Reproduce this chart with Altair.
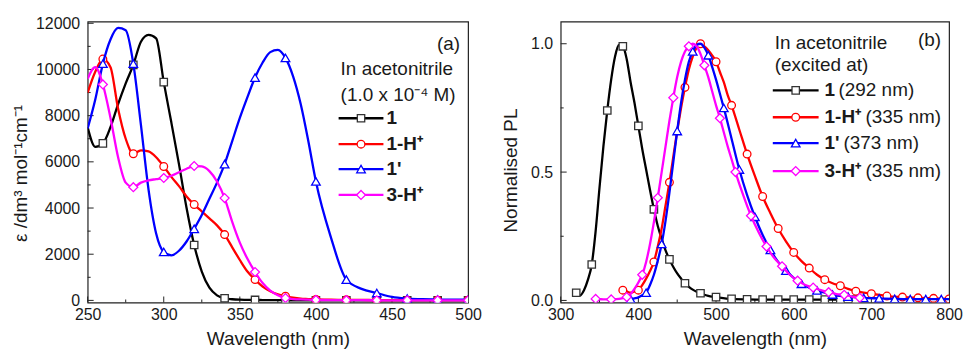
import altair as alt
import pandas as pd

# ---------------- Panel (a): absorption in acetonitrile ----------------
wl_a = list(range(250, 401, 5)) + list(range(410, 501, 10))
abs_1 = [7500, 6650, 6800, 7500, 8500, 9400, 10200, 11200, 11500, 11350,
         9450, 7700, 5900, 4000, 2400, 1250, 550, 220, 90, 50,
         30, 20, 20, 15, 10, 10, 10, 5, 5, 5, 0,
         0, 0, 0, 0, 0, 0, 0, 0, 0, 0]
abs_1H = [9000, 9900, 10450, 10100, 8300, 7000, 6350, 6500, 6450, 6200,
          5800, 5350, 4950, 4500, 4150, 3850, 3550, 3250, 2850, 2300,
          1750, 1250, 900, 600, 400, 260, 180, 120, 80, 60, 40,
          30, 25, 20, 15, 15, 10, 10, 10, 10, 10]
abs_1p = [7450, 8700, 10250, 11300, 11800, 11700, 10250, 7600, 4800, 2900,
          2100, 1950, 2150, 2550, 3100, 3700, 4400, 5100, 5900, 6900,
          7900, 8800, 9650, 10300, 10750, 10850, 10500, 9700, 8500, 6900, 5150,
          2700, 900, 500, 320, 150, 80, 50, 40, 30, 30]
abs_3H = [9600, 10100, 9350, 7900, 6200, 5100, 4900, 5100, 5200, 5250,
          5300, 5400, 5550, 5700, 5820, 5800, 5600, 5150, 4430, 3400,
          2500, 1800, 1230, 750, 420, 220, 100, 60, 40, 30, 20,
          15, 10, 10, 5, 5, 5, 5, 5, 5, 5]
a_marker_start = [260, 260, 260, 260]

# ---------------- Panel (b): normalised PL ----------------
pl_1_wl = list(range(320, 501, 5)) + list(range(520, 681, 20))
pl_1 = [0.03, 0.02, 0.04, 0.08, 0.14, 0.27, 0.44, 0.60, 0.74, 0.86,
        0.95, 0.995, 0.99, 0.94, 0.85, 0.77, 0.68, 0.59, 0.51, 0.43,
        0.355, 0.29, 0.24, 0.195, 0.16, 0.13, 0.105, 0.085, 0.067, 0.053,
        0.042, 0.034, 0.028, 0.022, 0.018, 0.015, 0.013,
        0.006, 0.004, 0.003, 0.003, 0.003, 0.003, 0.003, 0.003, 0.003]

pl_1H_wl = list(range(375, 521, 5)) + list(range(530, 701, 10)) + list(range(720, 801, 20))
pl_1H = [0.04, 0.04, 0.035, 0.03, 0.035, 0.04, 0.06, 0.085, 0.115, 0.15,
         0.21, 0.28, 0.37, 0.46, 0.56, 0.66, 0.75, 0.83, 0.9, 0.95,
         0.985, 1.0, 0.99, 0.975, 0.955, 0.93, 0.89, 0.85, 0.8, 0.76,
         0.665, 0.57, 0.485, 0.405, 0.34, 0.28, 0.23, 0.187, 0.153, 0.126,
         0.1, 0.081, 0.067, 0.057, 0.045, 0.036, 0.03, 0.026,
         0.017, 0.013, 0.01, 0.008, 0.006]

pl_1p_wl = list(range(385, 511, 5)) + list(range(520, 651, 10)) + list(range(670, 791, 20)) + [800]
pl_1p = [0.005, 0.005, 0.008, 0.012, 0.02, 0.03, 0.06, 0.1, 0.155, 0.22,
         0.31, 0.42, 0.54, 0.66, 0.77, 0.86, 0.93, 0.97, 0.995, 1.0,
         0.985, 0.955, 0.91, 0.86, 0.805, 0.75,
         0.63, 0.51, 0.41, 0.326, 0.255, 0.197, 0.15, 0.116, 0.088, 0.065,
         0.05, 0.039, 0.03, 0.023,
         0.015, 0.01, 0.008, 0.006, 0.005, 0.005, 0.005, 0.005]

pl_3H_wl = list(range(345, 526, 5)) + list(range(535, 686, 10))
pl_3H = [0.006, 0.005, 0.004, 0.004, 0.004, 0.005, 0.006, 0.009, 0.013, 0.025,
         0.045, 0.07, 0.1, 0.15, 0.22, 0.305, 0.4, 0.5, 0.6, 0.7,
         0.79, 0.87, 0.93, 0.97, 0.99, 1.0, 0.99, 0.96, 0.916, 0.87,
         0.815, 0.76, 0.71, 0.655, 0.6, 0.55, 0.5,
         0.41, 0.33, 0.265, 0.21, 0.165, 0.133, 0.1, 0.077, 0.06, 0.05,
         0.04, 0.032, 0.025, 0.022, 0.015, 0.01]
b_marker_start = [320, 380, 390, 345]

series_names = ["1", "1-H⁺", "1'", "3-H⁺"]
series_colors = ["#000000", "#ff0000", "#0000ff", "#ff00ff"]
marker_stroke = ["#333333", "#ff0000", "#0000ff", "#ff00ff"]
series_shapes = ["square", "circle", "triangle-up", "diamond"]
series_sizes = [55, 60, 75, 80]
excitation = ["(292 nm)", "(335 nm)", "(373 nm)", "(335 nm)"]

a_xticks = [250, 300, 350, 400, 450, 500]
a_xminor = [275, 325, 375, 425, 475]
a_yticks = [0, 2000, 4000, 6000, 8000, 10000, 12000]
a_yminor = [1000, 3000, 5000, 7000, 9000, 11000]
b_xticks = [300, 400, 500, 600, 700, 800]
b_xminor = [350, 450, 550, 650, 750]
b_yticks = [0.0, 0.5, 1.0]
b_yminor = [0.25, 0.75]

FONT = "Liberation Sans"
TXT = "#1a1a1a"
ONE = alt.Data(values=[{"k": 1}])
H = 282


def make_panel(xs_list, ys_list, mstarts, xdom, ydom, W, H, xt, xm, yt, ym,
               ytitle, yfmt, ytitle_x, ytitle_y, legend_cfg):
    xenc = alt.X("wl:Q", scale=alt.Scale(domain=xdom, nice=False, zero=False),
                 axis=alt.Axis(values=xt, format="d", ticks=False, grid=False, domain=False,
                               labelFlush=False, labelFontSize=16, labelPadding=4,
                               labelColor=TXT,
                               title="Wavelength (nm)", titleFontSize=19,
                               titleFontWeight="normal", titlePadding=7, titleColor=TXT))
    yenc = alt.Y("v:Q", scale=alt.Scale(domain=ydom, nice=False, zero=False),
                 axis=alt.Axis(values=yt, format=yfmt, ticks=False, grid=False, domain=False,
                               labelFlush=False, labelFontSize=16, labelPadding=8,
                               labelColor=TXT,
                               title=ytitle, titleFontSize=19, titleFontWeight="normal",
                               titleColor=TXT, titleX=ytitle_x, titleY=ytitle_y,
                               titleBaseline="middle", titleAngle=270))
    layers = []
    # inward ticks
    tick_x = pd.DataFrame({"wl": xt + xm, "len": [6] * len(xt) + [3] * len(xm)})
    for L in (6, 3):
        d = tick_x[tick_x["len"] == L]
        layers.append(alt.Chart(d).mark_rule(color="#222", strokeWidth=1).encode(
            x=xenc, y=alt.value(H), y2=alt.value(H - L)))
    tick_y = pd.DataFrame({"v": yt + ym, "len": [6] * len(yt) + [3] * len(ym)})
    for L in (6, 3):
        d = tick_y[tick_y["len"] == L]
        layers.append(alt.Chart(d).mark_rule(color="#222", strokeWidth=1).encode(
            y=yenc, x=alt.value(0), x2=alt.value(L)))
    # curves and markers
    for i in range(4):
        df = pd.DataFrame({"wl": xs_list[i], "v": ys_list[i]})
        layers.append(alt.Chart(df).mark_line(
            color=series_colors[i], strokeWidth=2.3, interpolate="monotone", clip=True
        ).encode(x=xenc, y=yenc))
        dm = df[(df["wl"] - mstarts[i]) % 20 == 0]
        layers.append(alt.Chart(dm).mark_point(
            shape=series_shapes[i], filled=True, fill="white", stroke=marker_stroke[i],
            strokeWidth=1.3, size=series_sizes[i], opacity=1, clip=True
        ).encode(x=xenc, y=yenc))
    # legend / annotation
    for (txt, x, y, align, weight) in legend_cfg["texts"]:
        layers.append(alt.Chart(ONE).mark_text(
            text=txt, align=align, baseline="middle", fontSize=19, fontWeight=weight,
            font=FONT, color=TXT
        ).encode(x=alt.value(x), y=alt.value(y)))
    lx0, lx1, lxm = legend_cfg["line"]
    for i, ry in enumerate(legend_cfg["rows"]):
        layers.append(alt.Chart(ONE).mark_rule(color=series_colors[i], strokeWidth=2.3).encode(
            x=alt.value(lx0), x2=alt.value(lx1), y=alt.value(ry)))
        layers.append(alt.Chart(ONE).mark_point(
            shape=series_shapes[i], filled=True, fill="white", stroke=marker_stroke[i],
            strokeWidth=1.3, size=series_sizes[i], opacity=1
        ).encode(x=alt.value(lxm), y=alt.value(ry)))
        layers.append(alt.Chart(ONE).mark_text(
            text=series_names[i], align="left", baseline="middle", fontSize=19,
            fontWeight="bold", font=FONT, color=TXT
        ).encode(x=alt.value(legend_cfg["label_x"]), y=alt.value(ry)))
        if legend_cfg.get("extra_x"):
            layers.append(alt.Chart(ONE).mark_text(
                text=excitation[i], align="left", baseline="middle", fontSize=19,
                font=FONT, color=TXT
            ).encode(x=alt.value(legend_cfg["extra_x"][i]), y=alt.value(ry)))
    return alt.layer(*layers).properties(width=W, height=H)


left_cfg = {
    "texts": [("(a)", 374, 22, "right", "normal"),
              ("In acetonitrile", 254, 48, "left", "normal"),
              ("(1.0 x 10⁻⁴ M)", 254, 74, "left", "normal")],
    "rows": [97, 123, 148, 174],
    "line": (252, 297, 274.5),
    "label_x": 300,
}
right_cfg = {
    "texts": [("(b)", 382, 18, "right", "normal"),
              ("In acetonitrile", 215, 21, "left", "normal"),
              ("(excited at)", 215, 44, "left", "normal")],
    "rows": [69, 96, 122, 150],
    "line": (213, 259, 236),
    "label_x": 265,
    "extra_x": [279, 306, 284, 306],
}

left = make_panel([wl_a] * 4, [abs_1, abs_1H, abs_1p, abs_3H], a_marker_start,
                  [250, 500], [-90, 12070], 382, H,
                  a_xticks, a_xminor, a_yticks, a_yminor,
                  "ε /dm³ mol⁻¹cm⁻¹", "d", -67, 152, left_cfg)
right = make_panel([pl_1_wl, pl_1H_wl, pl_1p_wl, pl_3H_wl], [pl_1, pl_1H, pl_1p, pl_3H],
                   b_marker_start, [300, 800], [-0.008, 1.086], 390, H,
                   b_xticks, b_xminor, b_yticks, b_yminor,
                   "Normalised PL", ".1f", -50, 149, right_cfg)

chart = alt.hconcat(left, right, spacing=19).properties(
    padding={"left": 3, "top": 6, "right": 0, "bottom": 0}
).configure_view(stroke="#222", strokeWidth=1.2).configure_axis(
    labelFont=FONT, titleFont=FONT
).configure_text(font=FONT)

chart.save("out.html", embed_options={"renderer": "svg", "actions": False})
